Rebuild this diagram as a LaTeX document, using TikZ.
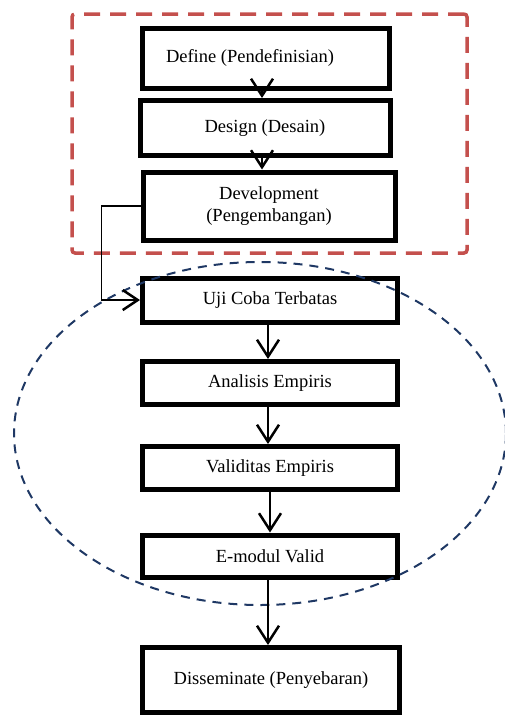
\documentclass[tikz,border=0pt]{standalone}
\usepackage{fontspec}
\setmainfont{Liberation Serif}
\usetikzlibrary{arrows.meta, shapes.geometric, positioning}
\definecolor{framered}{RGB}{196,80,77}
\definecolor{ringblue}{RGB}{31,56,100}
\tikzstyle{stage} = [rectangle, minimum height=44pt, text centered, align=center, draw=black, line width=5pt, fill=white, font=\fontsize{18.5}{22}\selectfont]
\tikzstyle{arrow} = [line width=2pt, -{Straight Barb[length=17pt, width=22pt, line width=2.5pt]}]

\begin{document}
\begin{tikzpicture}[x=1pt, y=-1pt]
\useasboundingbox (0,0) rectangle (505,715);

% Define, design, develop
\node (red) [draw=framered, line width=3.5pt, dash pattern=on 16pt off 10pt, rounded corners=3pt, minimum width=395pt, minimum height=239pt] at (269.5,133.5) {};

\node (define) [stage, minimum width=247pt, minimum height=60pt] at (266,58) {\hspace*{-32pt}Define (Pendefinisian)};
\node (design) [stage, minimum width=250pt, minimum height=55pt] at (265,128) {Design (Desain)};
\node (develop) [stage, minimum width=252pt, minimum height=68pt] at (269,206) {Development\\(Pengembangan)};

\node (uji) [stage, minimum width=255pt] at (270,300) {Uji Coba Terbatas};
\node (analisis) [stage, minimum width=255pt, minimum height=43pt] at (270,383) {Analisis Empiris};
\node (validitas) [stage, minimum width=255pt, minimum height=43pt] at (270,468) {Validitas Empiris};
\node (emodul) [stage, minimum width=255pt, minimum height=42pt] at (270,556) {E-modul Valid};

% Disseminate
\node (dissem) [stage, minimum width=257pt, minimum height=65pt] at (271,680) {Disseminate (Penyebaran)};

% Trial stage
\node (ring) [ellipse, draw=ringblue, line width=2pt, dash pattern=on 9pt off 7pt, minimum width=492pt, minimum height=343pt] at (260,433.5) {};

% Arrows
\draw [arrow] (define.south -| 262,0) -- (design.north -| 262,0);
\draw [arrow] (design.south -| 262,0) -- (develop.north -| 262,0);
\draw [line width=1.5pt, -{Straight Barb[length=15pt, width=20pt, line width=2.5pt]}] (develop.west) -- ++(-39,0) |- (uji.west);
\draw [arrow] (uji.south -| 268,0) -- (analisis.north -| 268,0);
\draw [arrow] (analisis.south -| 268,0) -- (validitas.north -| 268,0);
\draw [arrow] (validitas.south -| 270,0) -- (emodul.north -| 270,0);
\draw [arrow] (emodul.south -| 268,0) -- (dissem.north -| 268,0);

\end{tikzpicture}
\end{document}
